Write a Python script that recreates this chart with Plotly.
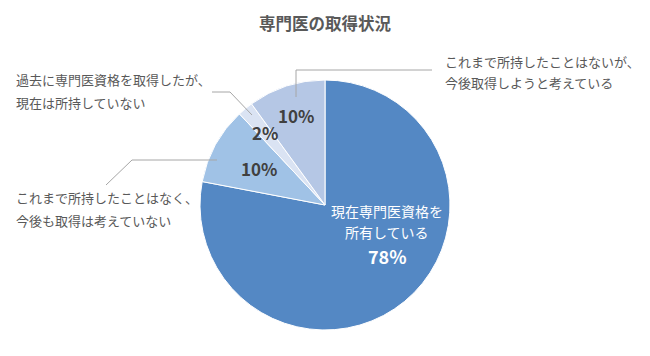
import math
import plotly.graph_objects as go

# ---- data ----
categories = [
    "現在専門医資格を所有している",
    "これまで所持したことはなく、今後も取得は考えていない",
    "過去に専門医資格を取得したが、現在は所持していない",
    "これまで所持したことはないが、今後取得しようと考えている",
]
values = [78, 10, 2, 10]
colors = ["#5488C4", "#A0C2E6", "#DAE3F3", "#B5C7E5"]
title_text = "専門医の取得状況"

# page body has an 8px margin; work in window pixels and shift
OFF = 8
W, H = 650 - OFF, 356 - OFF
CX, CY, R = 325, 205, 125
FONT = "Noto Sans CJK JP"


def px(x):
    return (x - OFF) / W


def py(y):
    return 1 - (y - OFF) / H


fig = go.Figure(
    go.Pie(
        labels=categories,
        values=values,
        sort=False,
        direction="clockwise",
        rotation=0,
        marker=dict(colors=colors, line=dict(color="white", width=1)),
        textinfo="none",
        hoverinfo="skip",
        domain=dict(x=[px(CX - R), px(CX + R)], y=[py(CY + R), py(CY - R)]),
    )
)

# label positions from data (mid angle of each slice)
total = sum(values)
cum = 0
mids = []
for v in values:
    mids.append((cum + v / 2) / total * 2 * math.pi)
    cum += v

annotations = []


def add_text(x, y, text, font, xanchor="center"):
    annotations.append(dict(
        x=px(x), y=py(y), xref="paper", yref="paper", showarrow=False,
        text=text, font=font, xanchor=xanchor, yanchor="middle"))


radial_frac = [None, 0.6, 0.75, 0.75]
for i, (v, a) in enumerate(zip(values, mids)):
    if i == 0:
        continue
    x = CX + R * radial_frac[i] * math.sin(a)
    y = CY - R * radial_frac[i] * math.cos(a)
    add_text(x, y, f"<b>{v}%</b>", dict(family=FONT, size=17, color="#404040"))

# big slice label
wfont = dict(family=FONT, size=14, color="white")
add_text(387, 211, "現在専門医資格を", wfont)
add_text(387, 232, "所有している", wfont)
add_text(387, 256, f"<b>{values[0]}%</b>", dict(family=FONT, size=18, color="white"))

# outside labels
lab_font = dict(family=FONT, size=13, color="#595959")
add_text(443, 62, "これまで所持したことはないが、", lab_font, "left")
add_text(443, 83, "今後取得しようと考えている", lab_font, "left")
add_text(14, 80, "過去に専門医資格を取得したが、", lab_font, "left")
add_text(14, 103, "現在は所持していない", lab_font, "left")
add_text(14, 197, "これまで所持したことはなく、", lab_font, "left")
add_text(14, 220, "今後も取得は考えていない", lab_font, "left")

# title
add_text(325, 23, f"<b>{title_text}</b>", dict(family=FONT, size=16.5, color="#595959"))

# leader lines
leaders = [
    [(296, 97), (296, 70), (432, 70)],
    [(252, 115), (230, 92), (212, 92)],
    [(217, 160), (132, 160), (106, 185)],
]
shapes = []
for pts in leaders:
    path = "M " + " L ".join(f"{px(x)},{py(y)}" for x, y in pts)
    shapes.append(dict(type="path", path=path, xref="paper", yref="paper",
                       line=dict(color="#A6A6A6", width=1)))

fig.update_layout(
    width=W, height=H,
    margin=dict(l=0, r=0, t=0, b=0),
    paper_bgcolor="white",
    plot_bgcolor="white",
    showlegend=False,
    annotations=annotations,
    shapes=shapes,
)

fig.write_html("out.html")
